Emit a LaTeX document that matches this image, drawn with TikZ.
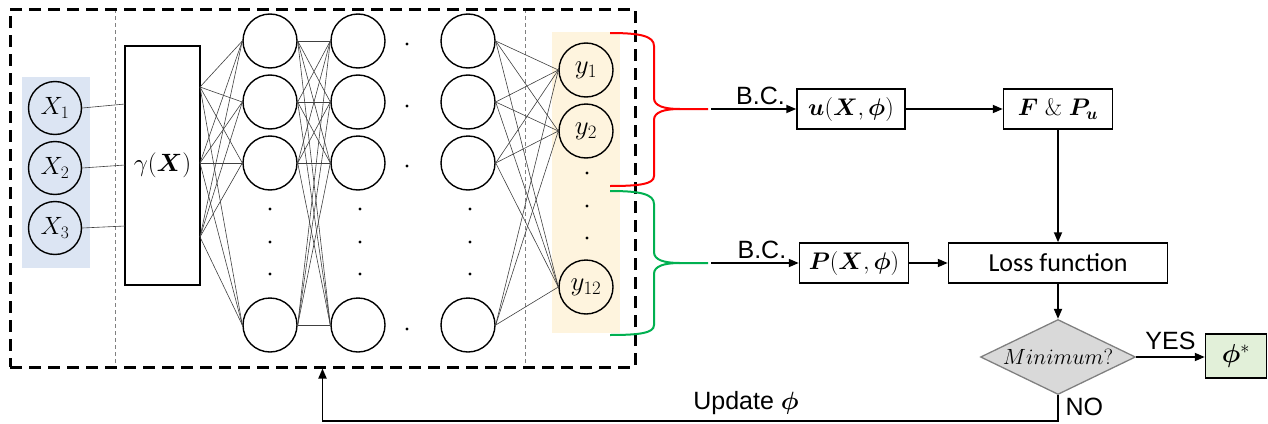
\RequirePackage{fix-cm}
\documentclass[tikz,border=0pt]{standalone}
\usepackage{amsmath}
\usepackage{bm}
\usepackage{fontspec}
\newfontfamily\arialf{Liberation Sans}
\newfontfamily\calf{Carlito}
\usetikzlibrary{arrows.meta,shapes.geometric}
\definecolor{bluebg}{RGB}{220,229,243}
\definecolor{yellowbg}{RGB}{254,244,222}
\definecolor{bracered}{RGB}{255,0,0}
\definecolor{bracegreen}{RGB}{0,176,80}
\definecolor{diafill}{RGB}{217,217,217}
\definecolor{diadraw}{RGB}{128,128,128}
\definecolor{greenfill}{RGB}{226,240,217}
\begin{document}
\begin{tikzpicture}[x=1pt,y=-1pt,
  neuron/.style={circle, draw, line width=1.4pt, minimum size=54pt, inner sep=0pt},
  xneuron/.style={neuron, minimum size=53pt, font=\fontsize{25}{29}\selectfont},
  yneuron/.style={neuron, font=\fontsize{27}{31}\selectfont},
  conn/.style={line width=0.6pt, draw=black!75},
  box/.style={draw, line width=1.5pt, inner sep=0pt, minimum height=40pt, font=\fontsize{24}{28}\selectfont},
  arr/.style={line width=1.8pt, -{Triangle[length=10pt,width=8pt]}},
  dotn/.style={circle, fill, inner sep=0pt, minimum size=3.4pt},
  vsep/.style={draw=gray, line width=0.7pt, dash pattern=on 4pt off 3pt},
  sans/.style={font=\arialf\fontsize{25}{30}\selectfont},
  bracepath/.style={line width=2pt},
]
\useasboundingbox (0,0) rectangle (1268,423);
% backgrounds
\fill[bluebg] (22,77) rectangle (90,268);
\fill[yellowbg] (552,32) rectangle (620,333);
\draw[vsep] (115,9) -- (115,367);
\draw[vsep] (525,9) -- (525,367);
% outer dashed box
\node[draw, line width=3pt, dash pattern=on 12pt off 7pt, minimum width=625pt, minimum height=358pt, inner sep=0pt] (net) at (322.5,188) {};
% inputs
\node[xneuron] (x1) at (55,108) {$X_1$};
\node[xneuron] (x2) at (55,168) {$X_2$};
\node[xneuron] (x3) at (55,228) {$X_3$};
% gamma box
\node[draw, line width=1.5pt, minimum width=75pt, minimum height=239pt, inner sep=0pt, font=\fontsize{25}{29}\selectfont] (gam) at (162.5,165.5) {$\gamma(\bm{X})$};
\coordinate (gi1) at (125,104);
\coordinate (gi2) at (125,165);
\coordinate (gi3) at (125,226);
\coordinate (g1) at (200,87);
\coordinate (g2) at (200,163);
\coordinate (g3) at (200,237);
\draw[conn] (x1.east) -- (gi1);
\draw[conn] (x2.east) -- (gi2);
\draw[conn] (x3.east) -- (gi3);
% hidden layers
\foreach \i/\y in {1/41,2/102,3/163,4/325} {
  \node[neuron] (a\i) at (270,\y) {};
  \node[neuron] (b\i) at (358,\y) {};
  \node[neuron] (c\i) at (468,\y) {};
}
% outputs
\node[yneuron] (y1) at (586,70) {$y_1$};
\node[yneuron] (y2) at (586,131) {$y_2$};
\node[yneuron] (y12) at (586,287) {$y_{12}$};
% dots
\foreach \y [count=\k] in {209,242,274} {
  \node[dotn] (da\k) at (270,\y) {};
  \node[dotn] (db\k) at (360,\y) {};
  \node[dotn] (dc\k) at (470,\y) {};
}
\foreach \y [count=\k] in {44,106,166,329} { \node[dotn] (dh\k) at (407,\y) {}; }
\foreach \y [count=\k] in {173,206,238} { \node[dotn] (dy\k) at (587,\y) {}; }
% connections
\foreach \g in {1,2,3} { \foreach \j in {1,...,4} { \draw[conn] (g\g) -- (a\j.west); } }
\foreach \i in {1,...,4} { \foreach \j in {1,...,4} { \draw[conn] (a\i.east) -- (b\j.west); } }
\foreach \i in {1,...,4} { \foreach \o in {1,2,12} { \draw[conn] (c\i.east) -- (y\o.west); } }
% braces
\draw[bracepath, bracered] (610,33) .. controls (640,33) and (654,36) .. (654,46) -- (654,98)
  .. controls (654,106) and (664,109) .. (680,109) -- (708,109);
\draw[bracepath, bracered] (680,109) .. controls (664,109) and (654,112) .. (654,120) -- (654,176)
  .. controls (654,184) and (640,186) .. (610,186);
\draw[bracepath, bracegreen] (610,191) .. controls (640,191) and (654,194) .. (654,204) -- (654,252)
  .. controls (654,260) and (664,263) .. (680,263) -- (708,263);
\draw[bracepath, bracegreen] (680,263) .. controls (664,263) and (654,266) .. (654,274) -- (654,325)
  .. controls (654,333) and (640,335) .. (610,335);
% right flow
\node[box, minimum width=108pt] (u) at (851,109) {$\bm{u}(\bm{X},\bm{\phi})$};
\node[box, minimum width=109pt] (fp) at (1058,109) {$\bm{F}\;\&\;\bm{P}_{\bm{u}}$};
\node[box, minimum width=109pt] (p) at (854,263) {$\bm{P}(\bm{X},\bm{\phi})$};
\node[box, minimum width=219pt, font=\calf\fontsize{26}{30}\selectfont] (loss) at (1058,263) {Loss function};
\node[diamond, draw=diadraw, fill=diafill, line width=1.3pt, aspect=2.07, inner sep=0pt, minimum width=155pt, minimum height=75pt, font=\fontsize{22}{26}\selectfont] (dia) at (1058,357) {$Minimum?$};
\node[draw, line width=1.5pt, fill=greenfill, minimum width=61pt, minimum height=44pt, inner sep=0pt, font=\fontsize{26}{30}\selectfont] (phs) at (1236,356) {$\bm{\phi}^{*}$};
\coordinate (bc1) at (711,109);
\coordinate (bc2) at (711,263);
\draw[arr] (bc1) -- (u.west) node[pos=0.58, above=0pt, sans] (bcl1) {B.C.};
\draw[arr] (bc2) -- (p.west) node[pos=0.58, above=0pt, sans] (bcl2) {B.C.};
\draw[arr] (u) -- (fp);
\draw[arr] (fp) -- (loss);
\draw[arr] (p) -- (loss);
\draw[arr] (loss) -- (dia);
\draw[arr] (dia.east) -- (phs.west |- dia.east) node[midway, above=3pt, sans] (yes) {YES};
\coordinate (ret) at (1058,421);
\draw[arr] (dia.south) -- (ret) -| (net.south);
\node[sans, anchor=west] (no) at (1062,407) {NO};
\node[sans] (upd) at (746,403) {Update $\bm{\phi}$};
\end{tikzpicture}
\end{document}
